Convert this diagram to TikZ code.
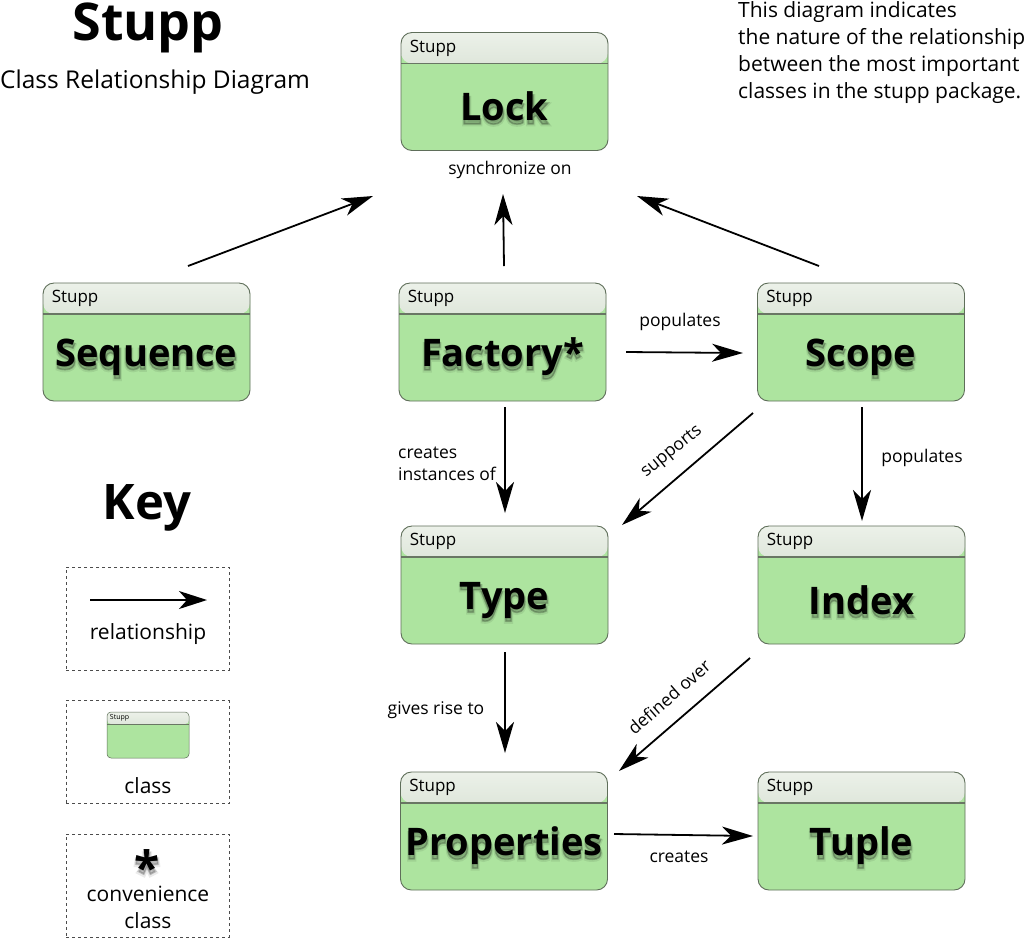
\documentclass[tikz,border=0pt]{standalone}
\usepackage{fontspec}
\setmainfont{Open Sans}
\newfontfamily\shadowfamA{Open Sans}[BoldFeatures={FakeBold=9}]
\newfontfamily\shadowfamB{Open Sans}[BoldFeatures={FakeBold=4}]
\usetikzlibrary{arrows.meta,calc}
\definecolor{bodygreen}{RGB}{173,228,159}
\definecolor{hdtop}{RGB}{236,241,233}
\definecolor{hdbot}{RGB}{186,201,181}
\definecolor{boxline}{RGB}{95,110,90}
\definecolor{sepline}{RGB}{105,118,100}
\tikzset{
  classbox/.style={draw=boxline, line width=0.9pt, rounded corners=11pt, fill=bodygreen,
    minimum width=207pt, minimum height=118pt, inner sep=0pt,
    path picture={
      \shade[top color=hdtop, bottom color=hdbot] (path picture bounding box.north west) rectangle ([yshift=-31pt]path picture bounding box.north east);
      \draw[sepline, line width=1.6pt] ([yshift=-31pt]path picture bounding box.north west) -- ([yshift=-31pt]path picture bounding box.north east);
    }},
  minibox/.style={draw=boxline, line width=0.5pt, rounded corners=4pt, fill=bodygreen,
    minimum width=82pt, minimum height=46pt, inner sep=0pt,
    path picture={
      \shade[top color=hdtop, bottom color=hdbot] (path picture bounding box.north west) rectangle ([yshift=-12pt]path picture bounding box.north east);
      \draw[sepline, line width=0.7pt] ([yshift=-12pt]path picture bounding box.north west) -- ([yshift=-12pt]path picture bounding box.north east);
    }},
  hdrtext/.style={font=\fontsize{17}{20}\selectfont, inner sep=0pt, anchor=west},
  shadA/.style={inner sep=0pt, text=black, opacity=0.08},
  shadB/.style={inner sep=0pt, text=black, opacity=0.16},
  elabel/.style={font=\fontsize{17.5}{22}\selectfont, inner sep=0pt},
  keytext/.style={font=\fontsize{21}{27}\selectfont, inner sep=0pt},
  rel/.style={line width=1.8pt, -{Stealth[length=31pt,width=18pt,inset=9pt]}},
  keybox/.style={draw=black!70, dash pattern=on 3pt off 3pt, line width=0.9pt, minimum width=163pt, minimum height=103pt, inner sep=0pt},
}
\newcommand{\shadowed}[4]{% name, coordinate, size, text
  \node[shadA, font={\shadowfamA\fontsize{#3}{#3}\selectfont\bfseries}] (#1-sa) at ([shift={(0pt,-4pt)}]#2) {#4};
  \node[shadB, font={\shadowfamB\fontsize{#3}{#3}\selectfont\bfseries}] (#1-sb) at ([shift={(0pt,-3pt)}]#2) {#4};
  \node[inner sep=0pt, font={\fontsize{#3}{#3}\selectfont\bfseries}] (#1) at (#2) {#4};}
\newcommand{\mkclass}[4]{% name, cx, cy, label
  \node[classbox] (#1) at (#2,#3) {};
  \node[hdrtext] (#1-hdr) at ([xshift=9pt,yshift=-16pt]#1.north west) {Stupp};
  \coordinate (#1-c) at ([yshift=-15pt]#1.center);
  \shadowed{#1-lbl}{#1-c}{38}{#4}}
\begin{document}
\begin{tikzpicture}[x=1pt,y=-1pt]
\useasboundingbox[fill=white] (0,0) rectangle (1024,938);

% titles
\node[font=\fontsize{52}{56}\selectfont\bfseries, inner sep=0pt, anchor=base] (title) at (148,40) {Stupp};
\node[font=\fontsize{24.5}{28}\selectfont, inner sep=0pt, anchor=base west] (subtitle) at (0,88) {Class Relationship Diagram};
\node[keytext, anchor=base west] (d1) at (738,17) {This diagram indicates};
\node[keytext, anchor=base west] (d2) at (738,44) {the nature of the relationship};
\node[keytext, anchor=base west] (d3) at (738,71) {between the most important};
\node[keytext, anchor=base west] (d4) at (738,98) {classes in the stupp package.};

% classes
\mkclass{lock}{504.5}{91.5}{Lock}
\mkclass{seq}{146.5}{342}{Sequence}
\mkclass{fac}{502.5}{342}{Factory*}
\mkclass{scope}{861}{342}{Scope}
\mkclass{type}{504.5}{585}{Type}
\mkclass{index}{861.5}{585}{Index}
\mkclass{prop}{504}{831}{Properties}
\mkclass{tuple}{861.5}{831}{Tuple}

% connector ends
\coordinate (seq-o) at (188,266);
\coordinate (lock-i1) at (373,196);
\coordinate (fac-o1) at (504,266);
\coordinate (lock-i2) at (503,194);
\coordinate (scope-o1) at (819,266);
\coordinate (lock-i3) at (637,196);
\coordinate (fac-o2) at (626,352);
\coordinate (scope-i) at (743,353);
\coordinate (fac-o3) at (505,407);
\coordinate (type-i1) at (505,513);
\coordinate (scope-o2) at (753,413);
\coordinate (type-i2) at (622,525);
\coordinate (scope-o3) at (862,407);
\coordinate (index-i) at (862,521);
\coordinate (type-o) at (505,652);
\coordinate (prop-i1) at (505,753);
\coordinate (index-o) at (750,658);
\coordinate (prop-i2) at (619,771);
\coordinate (prop-o) at (614,834);
\coordinate (tuple-i) at (753,836);

\draw[rel] (seq-o) -- (lock-i1);
\draw[rel] (fac-o1) -- (lock-i2);
\draw[rel] (scope-o1) -- (lock-i3);
\draw[rel] (fac-o2) -- (scope-i);
\draw[rel] (fac-o3) -- (type-i1);
\draw[rel] (scope-o2) -- (type-i2);
\draw[rel] (scope-o3) -- (index-i);
\draw[rel] (type-o) -- (prop-i1);
\draw[rel] (index-o) -- (prop-i2);
\draw[rel] (prop-o) -- (tuple-i);

% edge labels
\node[elabel] (l-sync) at (510,170) {synchronize on};
\node[elabel] (l-pop1) at (680,322) {populates};
\node[elabel, align=left, anchor=west] (l-creates) at (398,464) {creates\\instances of};
\node[elabel, rotate=39] (l-supports) at (672,452) {supports};
\node[elabel] (l-pop2) at (922,458) {populates};
\node[elabel] (l-gives) at (436,710) {gives rise to};
\node[elabel, rotate=41] (l-defined) at (669,697) {defined over};
\node[elabel] (l-creates2) at (679,857) {creates};

% key
\node[font=\fontsize{49}{54}\selectfont\bfseries, inner sep=0pt] (keytitle) at (147,508) {Key};
\node[keybox] (k1) at (147.5,618.5) {};
\node[keybox] (k2) at (147.5,752) {};
\node[keybox] (k3) at (147.5,885.5) {};
\coordinate (k1-a) at (90,600);
\coordinate (k1-b) at (207,600);
\draw[line width=1.8pt, -{Stealth[length=28pt,width=18pt,inset=8pt]}] (k1-a) -- (k1-b);
\node[keytext] (k1-t) at (148,634) {relationship};
\node[minibox] (mini) at (148,735) {};
\node[font=\fontsize{7}{8}\selectfont, inner sep=0pt, anchor=west] (mini-hdr) at ([xshift=3pt,yshift=-6pt]mini.north west) {Stupp};
\node[keytext] (k2-t) at (148,786) {class};
\coordinate (star-c) at (147,867);
\shadowed{star}{star-c}{46}{*}
\node[keytext] (k3-t1) at (148,894) {convenience};
\node[keytext] (k3-t2) at (148,921) {class};
\end{tikzpicture}
\end{document}
